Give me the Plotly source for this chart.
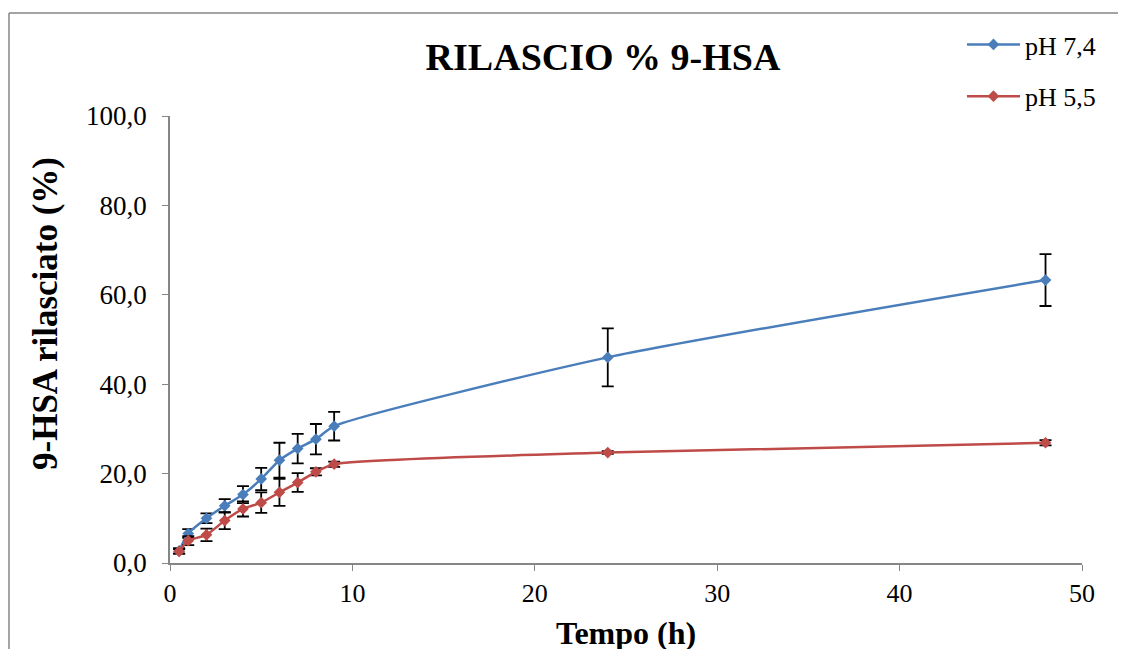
import plotly.graph_objects as go

time_h = [0.5, 1, 2, 3, 4, 5, 6, 7, 8, 9, 24, 48]
ph74 = [2.7, 6.6, 10.0, 12.8, 15.3, 18.8, 23.0, 25.6, 27.7, 30.6, 46.0, 63.3]
ph74_err = [0.6, 1.0, 1.1, 1.5, 1.9, 2.5, 3.9, 3.3, 3.4, 3.2, 6.5, 5.8]
ph55 = [2.6, 5.0, 6.3, 9.5, 12.1, 13.5, 15.8, 18.0, 20.4, 22.1, 24.7, 26.9]
ph55_err = [0.5, 1.0, 1.4, 1.9, 1.7, 2.3, 3.0, 2.1, 0.8, 0.6, 0.3, 0.6]

y_ticks = [0, 20, 40, 60, 80, 100]
x_ticks = [0, 10, 20, 30, 40, 50]

FONT = "Liberation Serif"
PW, PH = 912, 447  # plot area size in px

fig = go.Figure()
for i, (name, y, err, color) in enumerate([
    ("pH 7,4", ph74, ph74_err, "#4a7ebb"),
    ("pH 5,5", ph55, ph55_err, "#be4b48"),
]):
    fig.add_trace(go.Scatter(
        x=time_h, y=y, name=name, mode="lines+markers", legendgroup=f"g{i}",
        line=dict(color=color, width=2.5, shape="spline", smoothing=0.6),
        marker=dict(symbol="diamond", size=9, color=color),
        error_y=dict(type="data", array=err, visible=True, color="black",
                     thickness=1.8, width=6),
    ))

fig.update_layout(
    width=1126, height=649,
    margin=dict(l=162, r=52, t=108, b=94, autoexpand=False),
    paper_bgcolor="white", plot_bgcolor="white",
    separators=",.",
    font=dict(family=FONT, size=26, color="black"),
    title=dict(text="<b>RILASCIO % 9-HSA</b>", x=0.5284, xanchor="center",
               y=0.9245, yanchor="middle", font=dict(family=FONT, size=38, color="black")),
    legend=dict(x=0.8684, y=1.2125, xanchor="left", yanchor="top",
                xref="paper", yref="paper", itemwidth=53,
                bgcolor="rgba(0,0,0,0)", font=dict(family=FONT, size=26),
                tracegroupgap=15),
    showlegend=True,
    xaxis=dict(range=[0, 50], tickvals=x_ticks, showgrid=False, zeroline=False,
               showline=True, linecolor="#868686", linewidth=1.5,
               ticks="outside", ticklen=6, tickcolor="#868686",
               tickfont=dict(family=FONT, size=26)),
    yaxis=dict(range=[0, 100], tickvals=y_ticks, tickformat=".1f", showgrid=False,
               zeroline=False, showline=True, linecolor="#868686", linewidth=1.5,
               ticks="outside", ticklen=6, tickcolor="#868686", ticklabelstandoff=10,
               tickfont=dict(family=FONT, size=27)),
    annotations=[
        dict(text="<b>Tempo (h)</b>", xref="paper", yref="paper",
             x=(618 - 162) / PW, y=1 - (625 - 108) / PH, xanchor="center", yanchor="middle",
             showarrow=False, font=dict(family=FONT, size=32, color="black")),
        dict(text="<b>9-HSA rilasciato (%)</b>", xref="paper", yref="paper",
             x=(37 - 162) / PW, y=1 - (305 - 108) / PH, xanchor="center", yanchor="middle",
             textangle=-90, showarrow=False, font=dict(family=FONT, size=35, color="black")),
    ],
)

# outer chart border (top and left edges visible)
fig.add_shape(type="line", xref="paper", yref="paper",
              x0=-161/PW, x1=1.07, y0=1 + 103/PH, y1=1 + 103/PH,
              line=dict(color="#868686", width=1.5))
fig.add_shape(type="line", xref="paper", yref="paper",
              x0=-161/PW, x1=-161/PW, y0=1 + 103/PH, y1=-0.25,
              line=dict(color="#868686", width=1.5))

fig.write_html("out.html")
